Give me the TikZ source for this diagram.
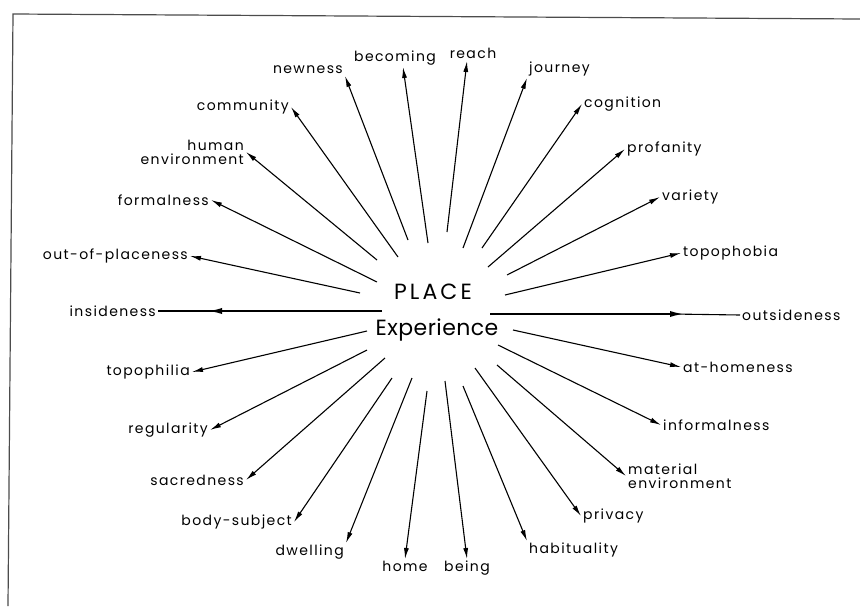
\documentclass[tikz,border=0pt]{standalone}
\usepackage{fontspec}
\setmainfont{Poppins}[LetterSpace=10]
\usetikzlibrary{arrows.meta}
\tikzset{
  lbl/.style={inner sep=2pt, font=\fontsize{14}{14}\selectfont},
  big/.style={inner sep=1pt, font=\fontsize{22}{24}\selectfont},
  arr/.style={line width=1.1pt, -{Latex[length=11pt,width=5pt]}},
  side/.style={line width=2.4pt, -{Latex[length=16pt,width=6pt]}},
}
\begin{document}
\begin{tikzpicture}[x=1pt,y=-1pt]
    \useasboundingbox (0,0) rectangle (860,606);
    \draw[gray!60!black, line width=1.2pt] (8,606) -- (13,14) -- (860,19);
    % centre words
    \node[big] (place) at (433,292) {\addfontfeature{LetterSpace=14}PLACE};
    \node[big] (experience) at (437,330) {\addfontfeature{LetterSpace=2}Experience};
    % upper left
    \node[lbl, anchor=east] (outofplace) at (190,256) {out-of-placeness};
    \draw[arr] (360,293) -- (outofplace.east);
    \node[lbl, anchor=east] (formalness) at (211,200) {formalness};
    \draw[arr] (377,282) -- (formalness.east);
    \node[lbl, anchor=east, align=right] (humanenv) at (246,152) {human\\environment};
    \draw[arr] (377,260) -- (humanenv.east);
    \node[lbl, anchor=east] (community) at (291,107) {community};
    \draw[arr] (398,257) -- (community.east);
    \node[lbl, anchor=south east] (newness) at (345,76) {newness};
    \draw[arr] (408,240) -- (newness.south east);
    \node[lbl, anchor=south] (becoming) at (395,67) {becoming};
    \draw[arr] (428,243) -- ([xshift=8pt]becoming.south);
    % upper right
    \node[lbl, anchor=south] (reach) at (473,61) {reach};
    \draw[arr] (447,232) -- ([xshift=-6pt]reach.south);
    \node[lbl, anchor=south west] (journey) at (527,78) {journey};
    \draw[arr] (463,248) -- (journey.south west);
    \node[lbl, anchor=west] (cognition) at (582,104) {cognition};
    \draw[arr] (482,248) -- (cognition.west);
    \node[lbl, anchor=west] (profanity) at (625,149) {profanity};
    \draw[arr] (488,267) -- (profanity.west);
    \node[lbl, anchor=west] (variety) at (660,197) {variety};
    \draw[arr] (507,275) -- (variety.west);
    \node[lbl, anchor=west] (topophobia) at (681,253) {topophobia};
    \draw[arr] (505,295) -- (topophobia.west);
    % the two long ones
    \node[lbl, anchor=west] (outsideness) at (740,315) {outsideness};
    \coordinate (outs-tip) at (686,314);
    \draw[line width=1.1pt] ([xshift=-14pt]outs-tip) -- (outsideness.west);
    \draw[side] (490,314) -- (outs-tip);
    \node[lbl, anchor=east] (insideness) at (158,311) {insideness};
    \coordinate (ins-tip) at (206,311);
    \draw[line width=1.1pt] ([xshift=14pt]ins-tip) -- (insideness.east);
    \draw[side] (382,311) -- (ins-tip);
    % lower right
    \node[lbl, anchor=west] (athome) at (681,367) {at-homeness};
    \draw[arr] (513,330) -- (athome.west);
    \node[lbl, anchor=west] (informalness) at (661,425) {informalness};
    \draw[arr] (498,345) -- (informalness.west);
    \node[lbl, anchor=west, align=left] (materialenv) at (626,476) {material\\environment};
    \draw[arr] (497,365) -- (materialenv.west);
    \node[lbl, anchor=west] (privacy) at (581,516) {privacy};
    \draw[arr] (475,368) -- (privacy.west);
    \node[lbl, anchor=north west] (habituality) at (527,541) {habituality};
    \draw[arr] (463,386) -- (habituality.north west);
    \node[lbl, anchor=north] (being) at (467,559) {being};
    \draw[arr] (445,381) -- (being.north);
    % lower left
    \node[lbl, anchor=north] (home) at (405,559) {home};
    \draw[arr] (427,391) -- (home.north);
    \node[lbl, anchor=north east] (dwelling) at (346,543) {dwelling};
    \draw[arr] (412,378) -- (dwelling.north east);
    \node[lbl, anchor=east] (bodysubject) at (294,522) {body-subject};
    \draw[arr] (392,378) -- (bodysubject.east);
    \node[lbl, anchor=east] (sacredness) at (246,480) {sacredness};
    \draw[arr] (385,358) -- (sacredness.east);
    \node[lbl, anchor=east] (regularity) at (210,430) {regularity};
    \draw[arr] (367,350) -- (regularity.east);
    \node[lbl, anchor=east] (topophilia) at (192,372) {topophilia};
    \draw[arr] (367,331) -- (topophilia.east);
\end{tikzpicture}
\end{document}
